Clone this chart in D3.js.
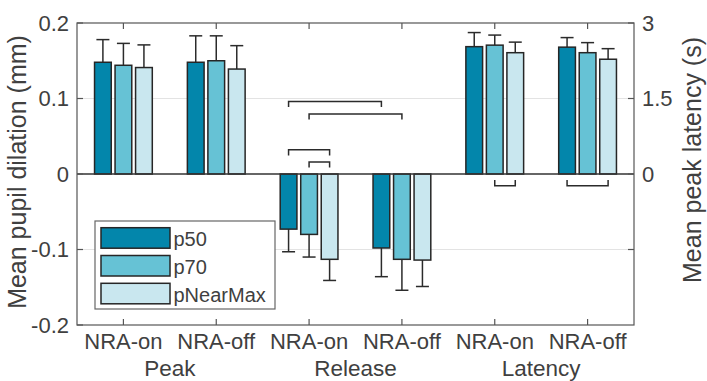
<!DOCTYPE html>
<html>
<head>
<meta charset="utf-8">
<script src="https://cdn.jsdelivr.net/npm/d3@7"></script>
<style>
  html, body { margin: 0; padding: 0; background: #fff; }
  svg { display: block; font-family: Arial, "Liberation Sans", Helvetica, sans-serif; }
</style>
</head>
<body>
<svg id="chart" width="707" height="381"></svg>
<script>
// Condition groups along the x axis and the section each pair belongs to
const groups = ["NRA-on", "NRA-off", "NRA-on", "NRA-off", "NRA-on", "NRA-off"];
const sections = ["Peak", "Release", "Latency"];
const axisOf = ["left", "left", "left", "left", "right", "right"];

// Series (pupil threshold levels)
const seriesNames = ["p50", "p70", "pNearMax"];
const seriesColors = ["#0386ab", "#66c2d5", "#c9e7ef"];

// Means: peak / release in mm (left axis), latency in s (right axis)
const p50 = [0.148, 0.148, -0.073, -0.098, 2.53, 2.52];
const p70 = [0.144, 0.150, -0.080, -0.113, 2.56, 2.41];
const pNearMax = [0.141, 0.139, -0.113, -0.114, 2.41, 2.28];

// Standard errors (drawn away from zero)
const p50Err = [0.030, 0.035, 0.030, 0.038, 0.28, 0.19];
const p70Err = [0.029, 0.033, 0.030, 0.041, 0.20, 0.20];
const pNearMaxErr = [0.030, 0.031, 0.028, 0.035, 0.21, 0.21];

// Tick labels
const leftTicks = [0.2, 0.1, 0, -0.1, -0.2];
const leftTickLabels = ["0.2", "0.1", "0", "-0.1", "-0.2"];
const rightTicks = [3, 1.5, 0, -1.5];
const rightTickLabels = ["3", "1.5", "0", ""];

// Significance brackets: [group, series] endpoints and height on the left axis (mm)
const brackets = [
  { a: [2, 0], b: [3, 0], level: 0.096, dir: 1 },
  { a: [2, 1], b: [3, 1], level: 0.0795, dir: 1 },
  { a: [2, 0], b: [2, 2], level: 0.032, dir: 1 },
  { a: [2, 1], b: [2, 2], level: 0.016, dir: 1 },
  { a: [4, 1], b: [4, 2], level: -0.0155, dir: -1 },
  { a: [5, 0], b: [5, 2], level: -0.0155, dir: -1 }
];

const means = [p50, p70, pNearMax];
const errs = [p50Err, p70Err, pNearMaxErr];

const svg = d3.select("#chart");
const box = { left: 77, right: 634, top: 23, bottom: 325 };

const axisColor = "#555";
const textColor = "#404040";
const edgeColor = "#262626";

const x = d3.scaleBand().domain(d3.range(groups.length)).range([box.left, box.right]).padding(0);
const gw = x.bandwidth();
const xs = d3.scaleBand().domain(d3.range(seriesNames.length))
  .range([gw / 2 - 1.5 * gw * 0.221, gw / 2 + 1.5 * gw * 0.221])
  .paddingInner(0.185).paddingOuter(0.0925);

const yL = d3.scaleLinear().domain([-0.2, 0.2]).range([box.bottom, box.top]);
const yR = d3.scaleLinear().domain([-3, 3]).range([box.bottom, box.top]);
const yOf = g => axisOf[g] === "left" ? yL : yR;

// Grid lines
svg.append("g").selectAll("line").data([0.1, -0.1]).join("line")
  .attr("x1", box.left).attr("x2", box.right)
  .attr("y1", d => yL(d)).attr("y2", d => yL(d))
  .attr("stroke", "#e3e3e3").attr("stroke-width", 1);

// Bars
const barData = [];
groups.forEach((g, gi) => {
  seriesNames.forEach((s, si) => {
    barData.push({ gi, si, v: means[si][gi], e: errs[si][gi] });
  });
});
const bx = d => x(d.gi) + xs(d.si);

// Error bars
const eg = svg.append("g").attr("stroke", "#2b2b2b").attr("stroke-width", 1.5).attr("fill", "none");
barData.forEach(d => {
  const y = yOf(d.gi);
  const cx = bx(d) + xs.bandwidth() / 2;
  const end = d.v >= 0 ? d.v + d.e : d.v - d.e;
  eg.append("line").attr("x1", cx).attr("x2", cx).attr("y1", y(d.v)).attr("y2", y(end));
  eg.append("line").attr("x1", cx - 6.5).attr("x2", cx + 6.5).attr("y1", y(end)).attr("y2", y(end));
});

svg.append("g").selectAll("rect").data(barData).join("rect")
  .attr("x", bx)
  .attr("width", xs.bandwidth())
  .attr("y", d => Math.min(yOf(d.gi)(d.v), yOf(d.gi)(0)))
  .attr("height", d => Math.abs(yOf(d.gi)(d.v) - yOf(d.gi)(0)))
  .attr("fill", d => seriesColors[d.si])
  .attr("stroke", edgeColor).attr("stroke-width", 1.5);

// Zero line
svg.append("line")
  .attr("x1", box.left).attr("x2", box.right)
  .attr("y1", yL(0)).attr("y2", yL(0))
  .attr("stroke", "#333").attr("stroke-width", 1.5);

// Significance brackets
const bg = svg.append("g").attr("stroke", "#2b2b2b").attr("stroke-width", 1.5).attr("fill", "none");
const center = ([g, s]) => x(g) + xs(s) + xs.bandwidth() / 2;
brackets.forEach(b => {
  const x1 = center(b.a), x2 = center(b.b), y0 = yL(b.level), leg = 5.6 * b.dir;
  bg.append("path").attr("d", `M${x1},${y0 + leg}V${y0}H${x2}V${y0 + leg}`);
});

// Axes frame
const ax = svg.append("g").attr("stroke", axisColor).attr("stroke-width", 1.2).attr("fill", "none");
ax.append("rect").attr("x", box.left).attr("y", box.top)
  .attr("width", box.right - box.left).attr("height", box.bottom - box.top);

const tickLen = 6;
groups.forEach((g, gi) => {
  const cx = x(gi) + gw / 2;
  ax.append("line").attr("x1", cx).attr("x2", cx).attr("y1", box.bottom).attr("y2", box.bottom - tickLen);
  ax.append("line").attr("x1", cx).attr("x2", cx).attr("y1", box.top).attr("y2", box.top + tickLen);
});
leftTicks.forEach(t => {
  ax.append("line").attr("x1", box.left).attr("x2", box.left + tickLen).attr("y1", yL(t)).attr("y2", yL(t));
});
rightTicks.forEach(t => {
  ax.append("line").attr("x1", box.right).attr("x2", box.right - tickLen).attr("y1", yR(t)).attr("y2", yR(t));
});

// Tick labels
const tl = svg.append("g").attr("fill", textColor).attr("font-size", 22);
leftTicks.forEach((t, i) => {
  tl.append("text").attr("x", box.left - 8).attr("y", yL(t)).attr("dy", "0.35em")
    .attr("text-anchor", "end").text(leftTickLabels[i]);
});
rightTicks.forEach((t, i) => {
  tl.append("text").attr("x", box.right + 8).attr("y", yR(t)).attr("dy", "0.35em")
    .attr("text-anchor", "start").text(rightTickLabels[i]);
});
groups.forEach((g, gi) => {
  tl.append("text").attr("x", x(gi) + gw / 2).attr("y", 348.5)
    .attr("text-anchor", "middle").text(g);
});

// Section labels under each pair of groups
const lab = svg.append("g").attr("fill", textColor).attr("font-size", 23);
sections.forEach((s, i) => {
  lab.append("text").attr("x", x(2 * i + 1)).attr("y", 375.5)
    .attr("font-size", 22.5)
    .attr("text-anchor", "middle").text(s);
});

// Axis titles
lab.append("text")
  .attr("transform", `translate(26,${(box.top + box.bottom) / 2 - 2}) rotate(-90)`)
  .attr("font-size", 25)
  .attr("text-anchor", "middle").text("Mean pupil dilation (mm)");
lab.append("text")
  .attr("transform", `translate(701,${(box.top + box.bottom) / 2 - 14}) rotate(-90)`)
  .attr("font-size", 25)
  .attr("text-anchor", "middle").text("Mean peak latency (s)");

// Legend
const lg = svg.append("g").attr("transform", "translate(95,221)");
lg.append("rect").attr("width", 180).attr("height", 88)
  .attr("fill", "#fff").attr("stroke", "#666").attr("stroke-width", 1.2);
seriesNames.forEach((s, i) => {
  const row = lg.append("g").attr("transform", `translate(6,${6.7 + i * 27.8})`);
  row.append("rect").attr("width", 69).attr("height", 20.5)
    .attr("fill", seriesColors[i]).attr("stroke", edgeColor).attr("stroke-width", 1.5);
  row.append("text").attr("x", 72.5).attr("y", 18.5)
    .attr("font-size", 20).attr("fill", textColor).text(s);
});
</script>
</body>
</html>
